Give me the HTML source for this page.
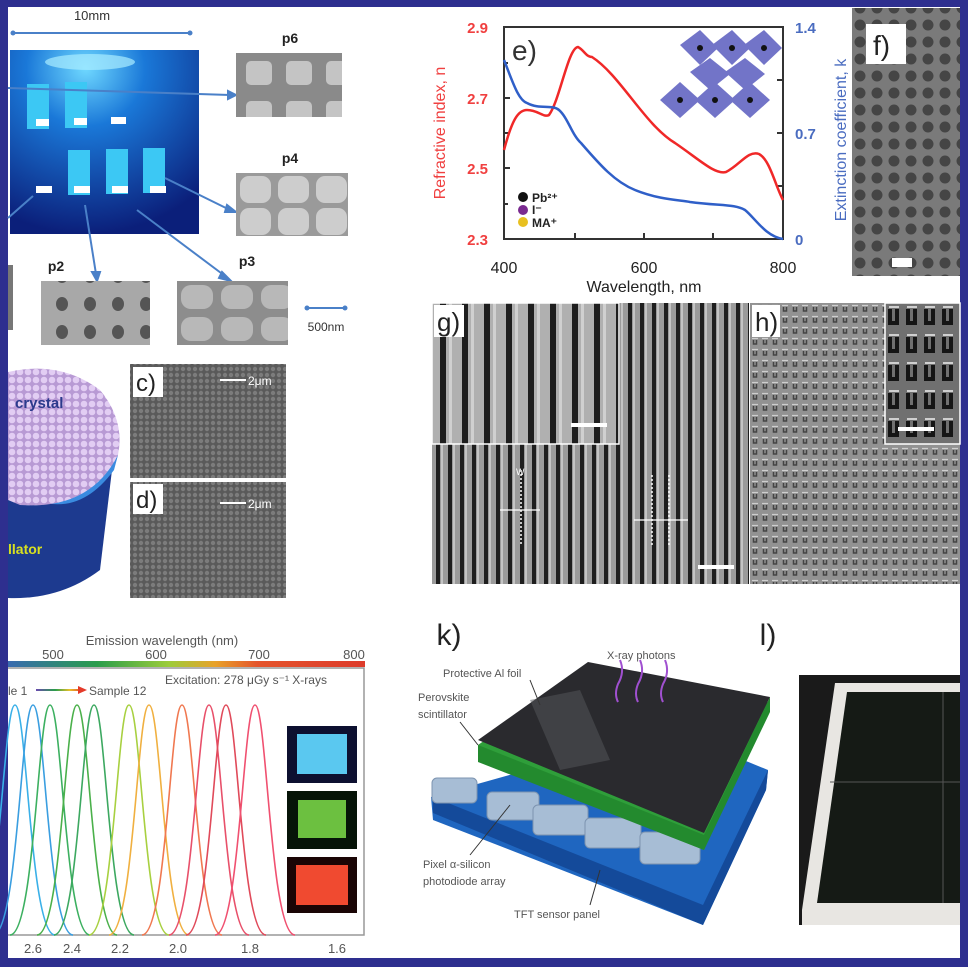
<!DOCTYPE html>
<html><head><meta charset="utf-8"><style>
html,body{margin:0;padding:0;background:#2e2f8f;}
svg{display:block}
text{font-family:"Liberation Sans",sans-serif}
</style></head><body>
<svg width="968" height="967" viewBox="0 0 968 967" xmlns="http://www.w3.org/2000/svg">
<defs>
<pattern id="sq6" width="40" height="40" patternUnits="userSpaceOnUse" x="236" y="53"><rect width="40" height="40" fill="#8a8a8a"/><rect x="10" y="8" width="26" height="24" rx="5" fill="#c4c4c4"/></pattern>
<pattern id="sq4" width="38" height="32" patternUnits="userSpaceOnUse" x="236" y="173"><rect width="38" height="32" fill="#9a9a9a"/><rect x="4" y="3" width="31" height="27" rx="9" fill="#cdcdcd"/></pattern>
<pattern id="sq3" width="40" height="32" patternUnits="userSpaceOnUse" x="177" y="281"><rect width="40" height="32" fill="#8d8d8d"/><rect x="4" y="4" width="32" height="24" rx="10" fill="#b8b8b8"/></pattern>
<pattern id="dot2" width="28" height="28" patternUnits="userSpaceOnUse" x="48" y="290"><rect width="28" height="28" fill="#a8a8a8"/><ellipse cx="14" cy="14" rx="6" ry="7" fill="#555"/></pattern>
<pattern id="hex" width="6" height="6" patternUnits="userSpaceOnUse"><rect width="6" height="6" fill="#5a5a5a"/><circle cx="3" cy="3" r="2.2" fill="#7c7c7c"/></pattern>
<pattern id="fdot" width="17" height="17" patternUnits="userSpaceOnUse" x="852"><rect width="17" height="17" fill="#7a7a7a"/><circle cx="8" cy="8" r="5.5" fill="#454545"/></pattern>
<pattern id="gstr" width="12" height="10" patternUnits="userSpaceOnUse" x="432"><rect width="12" height="10" fill="#9b9b9b"/><rect x="4" width="4" height="10" fill="#1e1e1e"/><rect x="9" width="2" height="10" fill="#c4c4c4"/></pattern>
<pattern id="gstr2" width="22" height="10" patternUnits="userSpaceOnUse" x="432"><rect width="22" height="10" fill="#b0b0b0"/><rect x="8" width="6" height="10" fill="#1e1e1e"/><rect x="17" width="3" height="10" fill="#d0d0d0"/></pattern>
<pattern id="hdot" width="10" height="11" patternUnits="userSpaceOnUse" x="750" y="303"><rect width="10" height="11" fill="#929292"/><path d="M3.5 4v4h3V4" fill="none" stroke="#444" stroke-width="1.5"/><path d="M2 2.5h6" stroke="#cfcfcf" stroke-width="1.2"/></pattern>
<pattern id="hdot2" width="18" height="28" patternUnits="userSpaceOnUse" x="885" y="303"><rect width="18" height="28" fill="#707070"/><path d="M5 6v14h7V6" fill="none" stroke="#151515" stroke-width="4"/><path d="M4 4h10" stroke="#d0d0d0" stroke-width="2"/></pattern>
<pattern id="balls" width="8" height="8" patternUnits="userSpaceOnUse"><rect width="8" height="8" fill="#b89ad4"/><circle cx="4" cy="4" r="3.3" fill="#e2cdf3"/></pattern>
<linearGradient id="spec" x1="0" x2="1"><stop offset="0" stop-color="#3a6bb0"/><stop offset="0.25" stop-color="#2a9d4b"/><stop offset="0.45" stop-color="#9ccc3a"/><stop offset="0.58" stop-color="#e8a22a"/><stop offset="0.7" stop-color="#e4542c"/><stop offset="1" stop-color="#dd3b2b"/></linearGradient>
<linearGradient id="arr" gradientUnits="userSpaceOnUse" x1="36" y1="0" x2="84" y2="0"><stop offset="0" stop-color="#6a4ab0"/><stop offset="0.4" stop-color="#2a9d4b"/><stop offset="0.7" stop-color="#e8c02a"/><stop offset="1" stop-color="#e43a2a"/></linearGradient>
<radialGradient id="blu" cx="0.4" cy="0.1" r="0.9"><stop offset="0" stop-color="#6fd8ff"/><stop offset="0.35" stop-color="#1a78d8"/><stop offset="1" stop-color="#0b1f7a"/></radialGradient>
</defs>
<rect x="8" y="7" width="952" height="951" fill="#fff"/>

<text x="92" y="20" font-size="13" fill="#333" text-anchor="middle">10mm</text>
<line x1="13" y1="33" x2="190" y2="33" stroke="#4a80c8" stroke-width="2"/>
<circle cx="13" cy="33" r="2.5" fill="#4a80c8"/><circle cx="190" cy="33" r="2.5" fill="#4a80c8"/>
<rect x="10" y="50" width="189" height="184" fill="url(#blu)"/>
<ellipse cx="90" cy="62" rx="45" ry="8" fill="#a9ecff" opacity="0.7"/>
<g fill="#3cc8f4"><rect x="27" y="84" width="22" height="45"/><rect x="65" y="82" width="22" height="46"/><rect x="68" y="150" width="22" height="45"/><rect x="106" y="149" width="22" height="45"/><rect x="143" y="148" width="22" height="45"/></g>
<g fill="#fff"><rect x="36" y="119" width="13" height="7"/><rect x="74" y="118" width="13" height="7"/><rect x="111" y="117" width="15" height="7"/><rect x="36" y="186" width="16" height="7"/><rect x="74" y="186" width="16" height="7"/><rect x="112" y="186" width="16" height="7"/><rect x="150" y="186" width="16" height="7"/></g>
<g stroke="#4a80c8" stroke-width="2" fill="#4a80c8">
<line x1="8" y1="88" x2="230" y2="95"/><polygon points="236,95 228,91 228,99"/>
<line x1="165" y1="178" x2="230" y2="210"/><polygon points="236,212 227,205 225,212"/>
<line x1="85" y1="205" x2="96" y2="274"/><polygon points="97,281 92,272 100,272"/>
<line x1="137" y1="210" x2="225" y2="276"/><polygon points="231,281 222,272 219,278"/>
<line x1="33" y1="196" x2="8" y2="218"/>
</g>
<text x="290" y="43" font-size="14" font-weight="bold" text-anchor="middle" fill="#222">p6</text>
<rect x="236" y="53" width="106" height="64" fill="url(#sq6)"/>
<text x="290" y="163" font-size="14" font-weight="bold" text-anchor="middle" fill="#222">p4</text>
<rect x="236" y="173" width="112" height="63" fill="url(#sq4)"/>
<text x="56" y="271" font-size="14" font-weight="bold" text-anchor="middle" fill="#222">p2</text>
<rect x="41" y="281" width="109" height="64" fill="url(#dot2)"/>
<text x="247" y="266" font-size="14" font-weight="bold" text-anchor="middle" fill="#222">p3</text>
<rect x="177" y="281" width="111" height="64" fill="url(#sq3)"/>
<rect x="8" y="265" width="5" height="65" fill="#777"/>
<line x1="307" y1="308" x2="345" y2="308" stroke="#4a80c8" stroke-width="2"/>
<circle cx="307" cy="308" r="2.5" fill="#4a80c8"/><circle cx="345" cy="308" r="2.5" fill="#4a80c8"/>
<text x="326" y="331" font-size="12" text-anchor="middle" fill="#333">500nm</text>

<path d="M8 430 L8 598 Q60 600 100 570 L112 470 Z" fill="#1d3a8f"/>
<path d="M8 470 Q70 520 118 455 L114 470 Q70 530 8 485 Z" fill="#3a8be0"/>
<path d="M8 372 Q60 360 100 390 Q125 420 118 455 Q90 510 20 505 L8 500 Z" fill="url(#balls)"/>
<text x="15" y="408" font-size="15" font-weight="bold" fill="#2b3a8c">crystal</text>
<text x="8" y="554" font-size="14" font-weight="bold" fill="#d8e020">llator</text>

<rect x="130" y="364" width="156" height="114" fill="url(#hex)"/>
<rect x="133" y="367" width="30" height="30" fill="#fff"/><text x="136" y="391" font-size="24" fill="#222">c)</text>
<line x1="220" y1="380" x2="246" y2="380" stroke="#fff" stroke-width="2"/><text x="248" y="385" font-size="12" fill="#fff">2μm</text>
<rect x="130" y="482" width="156" height="116" fill="url(#hex)"/>
<rect x="133" y="484" width="30" height="30" fill="#fff"/><text x="136" y="508" font-size="24" fill="#222">d)</text>
<line x1="220" y1="503" x2="246" y2="503" stroke="#fff" stroke-width="2"/><text x="248" y="508" font-size="12" fill="#fff">2μm</text>

<rect x="504" y="27" width="279" height="212" fill="none" stroke="#333" stroke-width="2"/>
<g stroke="#333" stroke-width="2"><line x1="504" y1="98" x2="510" y2="98"/><line x1="504" y1="168" x2="510" y2="168"/><line x1="504" y1="133" x2="508" y2="133"/><line x1="504" y1="204" x2="508" y2="204"/><line x1="504" y1="63" x2="508" y2="63"/><line x1="777" y1="133" x2="783" y2="133"/><line x1="777" y1="80" x2="783" y2="80"/><line x1="777" y1="186" x2="783" y2="186"/><line x1="575" y1="239" x2="575" y2="233"/><line x1="644" y1="239" x2="644" y2="233"/><line x1="713" y1="239" x2="713" y2="233"/></g>
<g font-size="15" font-weight="bold" fill="#f04040" text-anchor="end"><text x="488" y="33">2.9</text><text x="488" y="104">2.7</text><text x="488" y="174">2.5</text><text x="488" y="245">2.3</text></g>
<g font-size="15" font-weight="bold" fill="#4a6cc0"><text x="795" y="33">1.4</text><text x="795" y="139">0.7</text><text x="795" y="245">0</text></g>
<text x="445" y="133" font-size="16" fill="#f04040" transform="rotate(-90 445 133)" text-anchor="middle">Refractive index, n</text>
<text x="846" y="140" font-size="16" fill="#4a6cc0" transform="rotate(-90 846 140)" text-anchor="middle">Extinction coefficient, k</text>
<g font-size="16" fill="#222" text-anchor="middle"><text x="504" y="273">400</text><text x="644" y="273">600</text><text x="783" y="273">800</text><text x="644" y="292">Wavelength, nm</text></g>
<text x="512" y="60" font-size="28" fill="#333">e)</text>
<path d="M504 150 C512 120 518 110 527 110 C538 110 544 118 549 115 C560 100 568 48 578 47 C584 50 586 57 592 57 C620 75 645 125 675 143 C700 160 715 175 726 172 C740 165 748 150 759 154 C770 160 775 185 783 200" fill="none" stroke="#f02828" stroke-width="2.5"/>
<path d="M504 60 C512 80 518 100 527 103 C540 110 552 104 559 110 C568 118 572 135 581 143 C600 165 615 182 635 190 C660 200 680 200 690 202 C720 206 735 204 745 210 C755 218 765 236 783 239" fill="none" stroke="#2f5fc8" stroke-width="2.5"/>
<g fill="#5a5cbf" opacity="0.85"><polygon points="680,45 700,30 718,48 700,65"/><polygon points="712,45 732,30 750,48 732,65"/><polygon points="744,45 764,30 782,48 764,65"/><polygon points="660,100 680,82 700,100 680,118"/><polygon points="695,100 715,82 735,100 715,118"/><polygon points="730,100 750,82 770,100 750,118"/><polygon points="690,72 710,58 730,74 710,90"/><polygon points="725,72 745,58 765,74 745,90"/></g>
<g fill="#111"><circle cx="700" cy="48" r="3"/><circle cx="732" cy="48" r="3"/><circle cx="764" cy="48" r="3"/><circle cx="680" cy="100" r="3"/><circle cx="715" cy="100" r="3"/><circle cx="750" cy="100" r="3"/></g>
<circle cx="523" cy="197" r="5" fill="#111"/><circle cx="523" cy="210" r="5" fill="#7a2a90"/><circle cx="523" cy="222" r="5" fill="#e8c020"/>
<g font-size="12" font-weight="bold" fill="#222"><text x="532" y="202">Pb²⁺</text><text x="532" y="214">I⁻</text><text x="532" y="227">MA⁺</text></g>

<rect x="852" y="8" width="108" height="268" fill="url(#fdot)"/>
<rect x="866" y="24" width="40" height="40" fill="#fff"/><text x="873" y="55" font-size="28" fill="#222">f)</text>
<rect x="892" y="258" width="20" height="9" fill="#fff"/>

<rect x="432" y="303" width="317" height="281" fill="url(#gstr)"/>
<rect x="432" y="303" width="187" height="141" fill="url(#gstr2)" stroke="#fff" stroke-width="1.5"/>
<rect x="434" y="305" width="30" height="32" fill="#fff"/><text x="437" y="331" font-size="26" fill="#222">g)</text>
<rect x="571" y="423" width="36" height="4" fill="#fff"/><rect x="698" y="565" width="36" height="4" fill="#fff"/>
<g stroke="#fff" stroke-width="1.5" stroke-dasharray="2 2"><line x1="521" y1="470" x2="521" y2="545"/><line x1="652" y1="475" x2="652" y2="545"/><line x1="669" y1="475" x2="669" y2="545"/></g>
<g stroke="#fff" stroke-width="1.2"><line x1="500" y1="510" x2="540" y2="510"/><line x1="634" y1="520" x2="688" y2="520"/></g>
<text x="516" y="475" font-size="9" fill="#fff">W</text>
<rect x="750" y="303" width="210" height="281" fill="url(#hdot)"/>
<rect x="885" y="303" width="75" height="141" fill="url(#hdot2)" stroke="#fff" stroke-width="1.5"/>
<rect x="752" y="305" width="28" height="32" fill="#fff"/><text x="755" y="331" font-size="26" fill="#222">h)</text>
<rect x="898" y="427" width="36" height="4" fill="#fff"/>

<text x="162" y="645" font-size="13" fill="#555" text-anchor="middle">Emission wavelength (nm)</text>
<g font-size="13" fill="#555" text-anchor="middle"><text x="53" y="659">500</text><text x="156" y="659">600</text><text x="259" y="659">700</text><text x="354" y="659">800</text></g>
<rect x="8" y="661" width="357" height="6" fill="url(#spec)"/>
<polyline points="8,668 364,668 364,935 8,935" fill="none" stroke="#999" stroke-width="1.5"/>
<text x="165" y="684" font-size="12" fill="#555">Excitation: 278 μGy s⁻¹ X-rays</text>
<text x="8" y="695" font-size="12" fill="#555">le 1</text>
<line x1="36" y1="690" x2="80" y2="690" stroke="url(#arr)" stroke-width="2"/><polygon points="87,690 78,686 78,694" fill="#e43a2a"/>
<text x="89" y="695" font-size="12" fill="#555">Sample 12</text>
<g fill="none" stroke-width="1.6">
<path d="M-25 935 C0 935 3 705 15 705 C27 705 30 935 55 935" stroke="#3ab0e8"/>
<path d="M-7 935 C18 935 21 705 33 705 C45 705 48 935 73 935" stroke="#3a9ee0"/>
<path d="M10 935 C35 935 38 705 50 705 C62 705 65 935 90 935" stroke="#3cb060"/>
<path d="M37 935 C62 935 65 705 77 705 C89 705 92 935 117 935" stroke="#4ab04a"/>
<path d="M54 935 C79 935 82 705 94 705 C106 705 109 935 134 935" stroke="#3ca860"/>
<path d="M89 935 C114 935 117 705 129 705 C141 705 144 935 169 935" stroke="#a8d040"/>
<path d="M109 935 C134 935 137 705 149 705 C161 705 164 935 189 935" stroke="#f0b040"/>
<path d="M142 935 C167 935 170 705 182 705 C194 705 197 935 222 935" stroke="#f07850"/>
<path d="M169 935 C194 935 197 705 209 705 C221 705 224 935 249 935" stroke="#e8506a"/>
<path d="M186 935 C211 935 214 705 226 705 C238 705 241 935 266 935" stroke="#e04a5a"/>
<path d="M215 935 C240 935 243 705 255 705 C267 705 270 935 295 935" stroke="#f05070"/>
</g>
<rect x="287" y="726" width="70" height="57" fill="#0d1030"/><rect x="297" y="734" width="50" height="40" fill="#5ac8f0"/>
<rect x="287" y="791" width="70" height="58" fill="#061408"/><rect x="298" y="800" width="48" height="38" fill="#6cc040"/>
<rect x="287" y="857" width="70" height="56" fill="#1a0505"/><rect x="296" y="865" width="52" height="40" fill="#f04a30"/>
<g font-size="13" fill="#555" text-anchor="middle"><text x="33" y="953">2.6</text><text x="72" y="953">2.4</text><text x="120" y="953">2.2</text><text x="178" y="953">2.0</text><text x="250" y="953">1.8</text><text x="337" y="953">1.6</text></g>

<text x="449" y="645" font-size="30" fill="#222" text-anchor="middle">k)</text>
<polygon points="431,797 670,730 768,770 766,790 703,925 433,820" fill="#1f66c0"/>
<polygon points="433,813 703,925 766,790 768,770 703,905 433,797" fill="#144a9a"/>
<g fill="#a7bdd5" stroke="#7d94b0"><rect x="432" y="778" width="45" height="25" rx="5"/><rect x="487" y="792" width="52" height="28" rx="5"/><rect x="533" y="805" width="55" height="30" rx="5"/><rect x="585" y="818" width="56" height="30" rx="5"/><rect x="640" y="832" width="60" height="32" rx="5"/></g>
<polygon points="478,745 588,668 770,703 704,850 478,760" fill="#2f9e3a"/>
<polygon points="478,745 704,835 770,697 770,712 704,850 478,762" fill="#238a2e"/>
<polygon points="478,740 588,662 770,697 704,833" fill="#2a2a2e"/>
<polygon points="530,700 580,690 610,760 560,770" fill="#55575c" opacity="0.5"/>
<g stroke="#a050d0" stroke-width="2" fill="none"><path d="M620 660 q5 12 -2 24 q-4 10 0 18"/><path d="M640 660 q5 12 -2 24 q-4 10 0 18"/><path d="M665 660 q5 12 -2 24 q-4 10 0 18"/></g>
<g font-size="11" fill="#555"><text x="607" y="659">X-ray photons</text><text x="443" y="677">Protective Al foil</text><text x="418" y="701">Perovskite</text><text x="418" y="718">scintillator</text><text x="423" y="868">Pixel α-silicon</text><text x="423" y="885">photodiode array</text><text x="514" y="918">TFT sensor panel</text></g>
<g stroke="#333" stroke-width="1"><line x1="530" y1="680" x2="540" y2="705"/><line x1="460" y1="722" x2="478" y2="745"/><line x1="470" y1="855" x2="510" y2="805"/><line x1="590" y1="905" x2="600" y2="870"/></g>

<text x="768" y="645" font-size="30" fill="#222" text-anchor="middle">l)</text>
<rect x="799" y="675" width="161" height="250" fill="#1a1a1a"/>
<polygon points="835,683 960,683 960,925 802,925 802,910" fill="#e8e6e2"/>
<polygon points="847,692 960,692 960,903 817,903" fill="#151a15"/>
<line x1="943" y1="692" x2="943" y2="903" stroke="#555"/><line x1="830" y1="782" x2="960" y2="782" stroke="#555"/>
</svg>
</body></html>
